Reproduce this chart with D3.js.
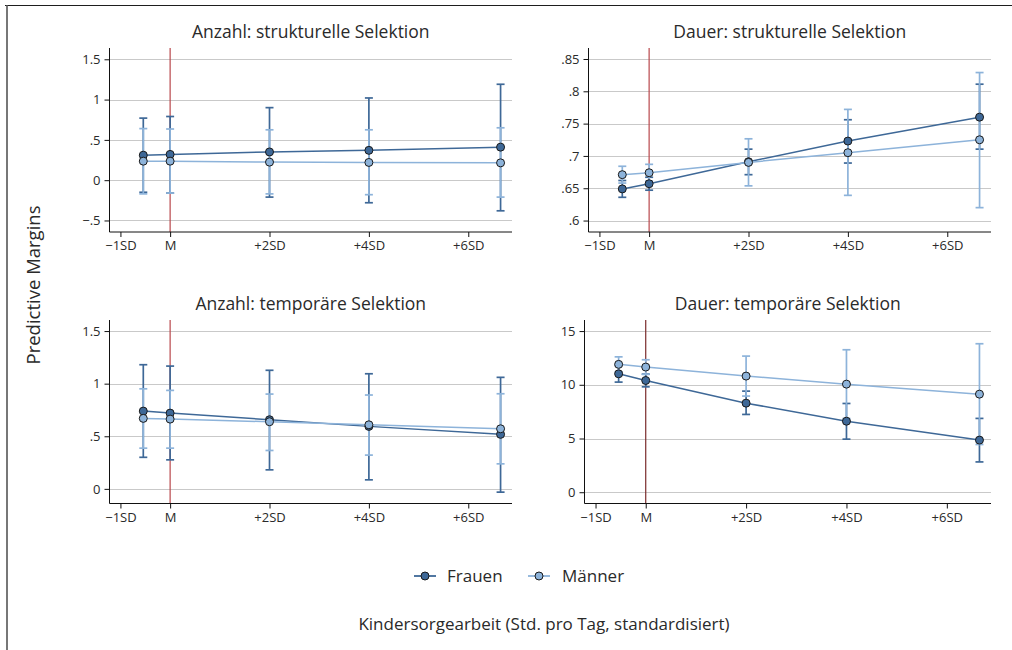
<!DOCTYPE html>
<html>
<head>
<meta charset="utf-8">
<script src="https://cdn.jsdelivr.net/npm/d3@7"></script>
<style>
  html, body { margin: 0; padding: 0; background: #fff; }
  svg { display: block; font-family: "Open Sans", "Noto Sans", sans-serif; }
</style>
</head>
<body>
<svg id="chart" width="1012" height="650"></svg>
<script>
// Predicted margins at five values of standardized child-care hours
const xPoints = [-0.54, 0, 2, 4, 6.65];
const xTickValues = [-1, 0, 2, 4, 6];
const xTickLabels = ["\u22121SD", "M", "+2SD", "+4SD", "+6SD"];
const seriesNames = ["Frauen", "Männer"];

// Anzahl: strukturelle Selektion
const anzStrukFrauen   = [0.31, 0.32, 0.35, 0.37, 0.41];
const anzStrukFrauenLo = [-0.15, -0.16, -0.21, -0.28, -0.38];
const anzStrukFrauenHi = [0.77, 0.79, 0.90, 1.02, 1.19];
const anzStrukMaenner   = [0.236, 0.236, 0.224, 0.22, 0.215];
const anzStrukMaennerLo = [-0.17, -0.16, -0.17, -0.18, -0.21];
const anzStrukMaennerHi = [0.64, 0.635, 0.625, 0.625, 0.65];

// Dauer: strukturelle Selektion
const dauStrukFrauen   = [0.649, 0.657, 0.691, 0.723, 0.760];
const dauStrukFrauenLo = [0.636, 0.647, 0.671, 0.689, 0.7105];
const dauStrukFrauenHi = [0.662, 0.667, 0.7105, 0.756, 0.811];
const dauStrukMaenner   = [0.671, 0.674, 0.690, 0.705, 0.725];
const dauStrukMaennerLo = [0.658, 0.661, 0.6537, 0.639, 0.620];
const dauStrukMaennerHi = [0.684, 0.687, 0.7265, 0.772, 0.829];

// Anzahl: temporäre Selektion
const anzTempFrauen   = [0.739, 0.72, 0.657, 0.594, 0.518];
const anzTempFrauenLo = [0.30, 0.276, 0.181, 0.086, -0.031];
const anzTempFrauenHi = [1.18, 1.167, 1.127, 1.094, 1.06];
const anzTempMaenner   = [0.67, 0.663, 0.638, 0.609, 0.571];
const anzTempMaennerLo = [0.387, 0.387, 0.365, 0.321, 0.238];
const anzTempMaennerHi = [0.951, 0.936, 0.901, 0.892, 0.904];

// Dauer: temporäre Selektion
const dauTempFrauen   = [11.02, 10.4, 8.29, 6.61, 4.85];
const dauTempFrauenLo = [10.25, 9.81, 7.24, 4.94, 2.82];
const dauTempFrauenHi = [11.79, 10.99, 9.41, 8.26, 6.87];
const dauTempMaenner   = [11.9, 11.65, 10.81, 10.06, 9.13];
const dauTempMaennerLo = [11.2, 10.97, 8.95, 6.86, 4.44];
const dauTempMaennerHi = [12.6, 12.33, 12.67, 13.26, 13.82];

// Y-axis ticks per panel
const anzStrukTicks = [-0.5, 0, 0.5, 1, 1.5];
const anzStrukTickLabels = ["\u2212.5", "0", ".5", "1", "1.5"];
const dauStrukTicks = [0.6, 0.65, 0.7, 0.75, 0.8, 0.85];
const dauStrukTickLabels = [".6", ".65", ".7", ".75", ".8", ".85"];
const anzTempTicks = [0, 0.5, 1, 1.5];
const anzTempTickLabels = ["0", ".5", "1", "1.5"];
const dauTempTicks = [0, 5, 10, 15];
const dauTempTickLabels = ["0", "5", "10", "15"];

const panelTitles = [
  "Anzahl: strukturelle Selektion",
  "Dauer: strukturelle Selektion",
  "Anzahl: temporäre Selektion",
  "Dauer: temporäre Selektion"
];

const colors = { Frauen: "#3e6897", "Männer": "#8db3da" };
const gridColor = "#c9c9c9";
const textColor = "#2a2a2a";

const panels = [
  { title: panelTitles[0], left: 109.5, right: 512, top: 48, bottom: 232, yDomain: [-0.643, 1.64],
    ticks: anzStrukTicks, tickLabels: anzStrukTickLabels, refColor: "#b9474b",
    series: [
      { name: "Frauen", y: anzStrukFrauen, lo: anzStrukFrauenLo, hi: anzStrukFrauenHi },
      { name: "Männer", y: anzStrukMaenner, lo: anzStrukMaennerLo, hi: anzStrukMaennerHi }
    ] },
  { title: panelTitles[1], left: 588.5, right: 991, top: 48, bottom: 232, yDomain: [0.5823, 0.867],
    ticks: dauStrukTicks, tickLabels: dauStrukTickLabels, refColor: "#b9474b",
    series: [
      { name: "Frauen", y: dauStrukFrauen, lo: dauStrukFrauenLo, hi: dauStrukFrauenHi },
      { name: "Männer", y: dauStrukMaenner, lo: dauStrukMaennerLo, hi: dauStrukMaennerHi }
    ] },
  { title: panelTitles[2], left: 109.5, right: 512, top: 320, bottom: 503.5, yDomain: [-0.139, 1.605],
    ticks: anzTempTicks, tickLabels: anzTempTickLabels, refColor: "#b9474b",
    series: [
      { name: "Frauen", y: anzTempFrauen, lo: anzTempFrauenLo, hi: anzTempFrauenHi },
      { name: "Männer", y: anzTempMaenner, lo: anzTempMaennerLo, hi: anzTempMaennerHi }
    ] },
  { title: panelTitles[3], left: 584.5, right: 991, top: 320, bottom: 503.5, yDomain: [-1.05, 16.03],
    ticks: dauTempTicks, tickLabels: dauTempTickLabels, refColor: "#7a2b2b",
    series: [
      { name: "Frauen", y: dauTempFrauen, lo: dauTempFrauenLo, hi: dauTempFrauenHi },
      { name: "Männer", y: dauTempMaenner, lo: dauTempMaennerLo, hi: dauTempMaennerHi }
    ] }
];

const svg = d3.select("#chart");

// Outer frame (top and left edges)
svg.append("line").attr("x1", 5).attr("x2", 1012).attr("y1", 5.5).attr("y2", 5.5)
  .attr("stroke", "#1e1e1e").attr("stroke-width", 1.2);
svg.append("line").attr("x1", 7).attr("x2", 7).attr("y1", 5).attr("y2", 650)
  .attr("stroke", "#555").attr("stroke-width", 1.6);

panels.forEach(p => {
  const g = svg.append("g");
  const x = d3.scaleLinear().domain([-1.22, 6.88]).range([p.left, p.right]);
  const y = d3.scaleLinear().domain(p.yDomain).range([p.bottom, p.top]);

  // Title
  g.append("text")
    .attr("x", (p.left + p.right) / 2).attr("y", p.top - 10)
    .attr("text-anchor", "middle").attr("font-size", 17.5).attr("fill", textColor)
    .text(p.title);

  // Gridlines
  g.selectAll(".grid").data(p.ticks).enter().append("line")
    .attr("x1", p.left).attr("x2", p.right)
    .attr("y1", d => Math.round(y(d)) + 0.5).attr("y2", d => Math.round(y(d)) + 0.5)
    .attr("stroke", gridColor).attr("stroke-width", 1.2);

  // Reference line at the mean
  g.append("line")
    .attr("x1", x(0)).attr("x2", x(0)).attr("y1", p.top).attr("y2", p.bottom)
    .attr("stroke", p.refColor).attr("stroke-width", 1.2);

  // Y axis
  const yAxis = d3.axisLeft(y).tickValues(p.ticks)
    .tickFormat((d, i) => p.tickLabels[i]).tickSize(5).tickPadding(4);
  const ya = g.append("g").attr("transform", `translate(${p.left},0)`).call(yAxis);
  ya.select(".domain").attr("d", `M0,${p.top}V${p.bottom}`).attr("stroke", "#111");
  ya.selectAll(".tick line").attr("stroke", "#111");
  ya.selectAll(".tick text").attr("font-size", 13).attr("fill", textColor)
    .attr("font-family", "'Open Sans', 'Noto Sans', sans-serif");

  // X axis
  const xAxis = d3.axisBottom(x).tickValues(xTickValues)
    .tickFormat((d, i) => xTickLabels[i]).tickSize(5).tickPadding(4);
  const xa = g.append("g").attr("transform", `translate(0,${p.bottom})`).call(xAxis);
  xa.select(".domain").attr("d", `M${p.left},0H${p.right}`).attr("stroke", "#111");
  xa.selectAll(".tick line").attr("stroke", "#111");
  xa.selectAll(".tick text").attr("font-size", 13).attr("fill", textColor)
    .attr("font-family", "'Open Sans', 'Noto Sans', sans-serif");

  // Confidence intervals
  p.series.forEach(s => {
    const c = colors[s.name];
    const eg = g.append("g");
    const idx = d3.range(xPoints.length);
    eg.selectAll(".bar").data(idx).enter().append("line")
      .attr("x1", i => x(xPoints[i])).attr("x2", i => x(xPoints[i]))
      .attr("y1", i => y(s.lo[i])).attr("y2", i => y(s.hi[i]))
      .attr("stroke", c).attr("stroke-width", 1.7);
    ["lo", "hi"].forEach(k => {
      eg.selectAll(".cap" + k).data(idx).enter().append("line")
        .attr("x1", i => x(xPoints[i]) - 4).attr("x2", i => x(xPoints[i]) + 4)
        .attr("y1", i => y(s[k][i])).attr("y2", i => y(s[k][i]))
        .attr("stroke", c).attr("stroke-width", 1.7);
    });
  });

  // Lines and markers
  p.series.forEach(s => {
    const c = colors[s.name];
    const line = d3.line().x((d, i) => x(xPoints[i])).y(d => y(d));
    g.append("path").datum(s.y).attr("d", line)
      .attr("fill", "none").attr("stroke", c).attr("stroke-width", 1.5);
    g.selectAll(null).data(s.y).enter().append("circle")
      .attr("cx", (d, i) => x(xPoints[i])).attr("cy", d => y(d)).attr("r", 4)
      .attr("fill", c).attr("stroke", "#1a1a1a").attr("stroke-width", 1);
  });
});

// Y axis title
svg.append("text")
  .attr("transform", "translate(40,285) rotate(-90)")
  .attr("text-anchor", "middle").attr("font-size", 18.5).attr("fill", textColor)
  .text("Predictive Margins");

// Legend
const legend = svg.append("g");
const legendItems = [
  { name: seriesNames[0], cx: 425, tx: 447 },
  { name: seriesNames[1], cx: 539, tx: 562 }
];
legendItems.forEach(it => {
  const c = colors[it.name];
  legend.append("line").attr("x1", it.cx - 11).attr("x2", it.cx + 11)
    .attr("y1", 576).attr("y2", 576).attr("stroke", c).attr("stroke-width", 1.8);
  legend.append("circle").attr("cx", it.cx).attr("cy", 576).attr("r", 4)
    .attr("fill", c).attr("stroke", "#1a1a1a").attr("stroke-width", 1);
  legend.append("text").attr("x", it.tx).attr("y", 582)
    .attr("font-size", 17).attr("fill", textColor).text(it.name);
});

// X axis title
svg.append("text")
  .attr("x", 544).attr("y", 630)
  .attr("text-anchor", "middle").attr("font-size", 17).attr("fill", textColor)
  .text("Kindersorgearbeit (Std. pro Tag, standardisiert)");
</script>
</body>
</html>
